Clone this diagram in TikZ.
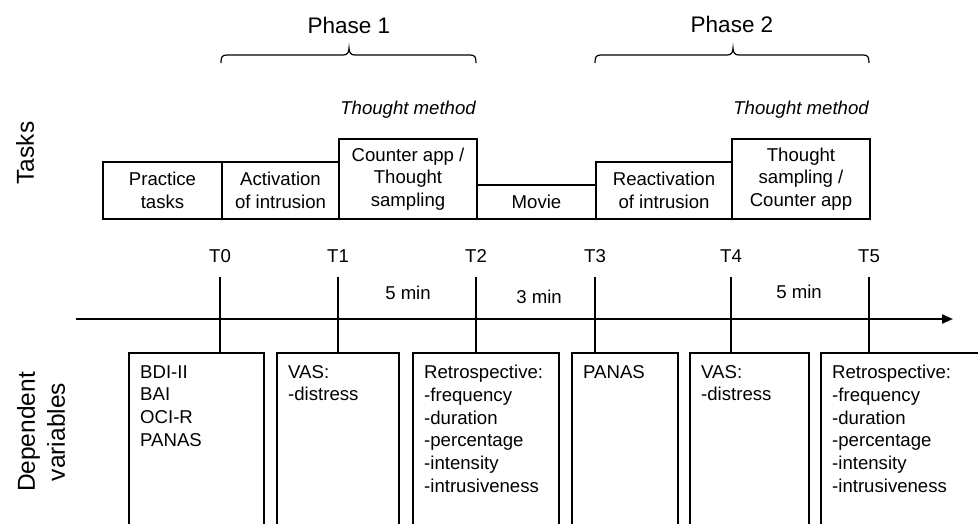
\documentclass[tikz,border=0pt]{standalone}
\usepackage{fontspec}
\setmainfont{Liberation Sans}
\usetikzlibrary{arrows.meta}
\newcommand\fsz{\fontsize{18.6}{22.7}\selectfont}
\newcommand\bigfsz{\fontsize{22.5}{29}\selectfont}
\newcommand\sidefsz{\fontsize{24.5}{30}\selectfont}
\begin{document}
\begin{tikzpicture}[x=1pt,y=-1pt,
  taskbox/.style={draw, line width=2pt, inner sep=0pt, anchor=south west, align=center, font=\fsz},
  dvbox/.style={draw, line width=2pt, inner sep=0pt, anchor=north west, minimum height=260pt},
  dvtext/.style={anchor=north west, align=left, inner sep=0pt, font=\fsz},
  lbl/.style={inner sep=0pt, font=\fsz},
  heading/.style={inner sep=0pt, font=\bigfsz},
  sidelbl/.style={inner sep=0pt, font=\sidefsz, rotate=90, align=center},
  tickline/.style={line width=2pt},
  bracestyle/.style={line width=1.2pt}]
\useasboundingbox (0,0) rectangle (978,523);
\clip (0,0) rectangle (978,523);
% phases
\node[heading] (ph1) at (349,25) {Phase 1};
\node[heading] (ph2) at (732,24) {Phase 2};
\draw[bracestyle] (221,63) .. controls (221,57) and (222,55) .. (227,55) -- (343,55)
  .. controls (347,55) and (349,53) .. (349,48) .. controls (349,53) and (351,55) .. (355,55)
  -- (470,55) .. controls (475,55) and (476,57) .. (476,63);
\draw[bracestyle] (595,63) .. controls (595,57) and (596,55) .. (601,55) -- (727,55)
  .. controls (731,55) and (733,53) .. (733,48) .. controls (733,53) and (735,55) .. (739,55)
  -- (863,55) .. controls (868,55) and (869,57) .. (869,63);
\node[lbl, anchor=east, font=\fsz\itshape] (tm1) at (476,110) {Thought method};
\node[lbl, anchor=east, font=\fsz\itshape] (tm2) at (869,110) {Thought method};
% side labels
\node[sidelbl] (tasks) at (25,153) {Tasks};
\node[sidelbl] (dv) at (41,432) {Dependent\\variables};
% task boxes
\node[taskbox, minimum width=119pt, minimum height=57pt] (prac) at (102,220) {Practice\\tasks};
\node[taskbox, minimum width=117pt, minimum height=57pt] (act) at (221,220) {Activation\\of intrusion};
\node[taskbox, minimum width=138pt, minimum height=80pt] (cnt) at (338,220) {Counter app /\\Thought\\sampling};
\node[taskbox, minimum width=119pt, minimum height=34pt] (mov) at (476,220) {\raisebox{-3pt}{Movie}};
\node[taskbox, minimum width=136pt, minimum height=57pt] (react) at (595,220) {Reactivation\\of intrusion};
\node[taskbox, minimum width=138pt, minimum height=80pt] (ths) at (731,220) {Thought\\sampling /\\Counter app};
% time labels
\node[lbl] (t0) at (220,256) {T0};
\node[lbl] (t1) at (338,256) {T1};
\node[lbl] (t2) at (476,256) {T2};
\node[lbl] (t3) at (595,256) {T3};
\node[lbl] (t4) at (731,256) {T4};
\node[lbl] (t5) at (869,256) {T5};
\node[lbl] (m1) at (408,293) {5 min};
\node[lbl] (m2) at (539,297) {3 min};
\node[lbl] (m3) at (799,292) {5 min};
% axis
\coordinate (ax0) at (76,319);
\coordinate (ax1) at (953,319);
\draw[line width=2pt, -{Triangle[length=11pt,width=9pt]}] (ax0) -- (ax1);
% dependent variable boxes
\node[dvbox, minimum width=135pt] (b0) at (128,352) {};
\node[dvbox, minimum width=122pt] (b1) at (276,352) {};
\node[dvbox, minimum width=146pt] (b2) at (412,352) {};
\node[dvbox, minimum width=106pt] (b3) at (571,352) {};
\node[dvbox, minimum width=119pt] (b4) at (689,352) {};
\node[dvbox, minimum width=200pt] (b5) at (820,352) {};
\node[dvtext] at ([shift={(12,13)}]b0.north west) {BDI-II\\BAI\\OCI-R\\PANAS};
\node[dvtext] at ([shift={(12,13)}]b1.north west) {VAS:\\-distress};
\node[dvtext] at ([shift={(12,13)}]b2.north west) {Retrospective:\\-frequency\\-duration\\-percentage\\-intensity\\-intrusiveness};
\node[dvtext] at ([shift={(12,13)}]b3.north west) {PANAS};
\node[dvtext] at ([shift={(12,13)}]b4.north west) {VAS:\\-distress};
\node[dvtext] at ([shift={(12,13)}]b5.north west) {Retrospective:\\-frequency\\-duration\\-percentage\\-intensity\\-intrusiveness};
% ticks
\coordinate (k0) at (220,277);
\coordinate (k1) at (338,277);
\coordinate (k2) at (476,277);
\coordinate (k3) at (595,277);
\coordinate (k4) at (731,277);
\coordinate (k5) at (869,277);
\draw[tickline] (k0) -- (k0 |- b0.north);
\draw[tickline] (k1) -- (k1 |- b1.north);
\draw[tickline] (k2) -- (k2 |- b2.north);
\draw[tickline] (k3) -- (k3 |- b3.north);
\draw[tickline] (k4) -- (k4 |- b4.north);
\draw[tickline] (k5) -- (k5 |- b5.north);
\end{tikzpicture}
\end{document}
